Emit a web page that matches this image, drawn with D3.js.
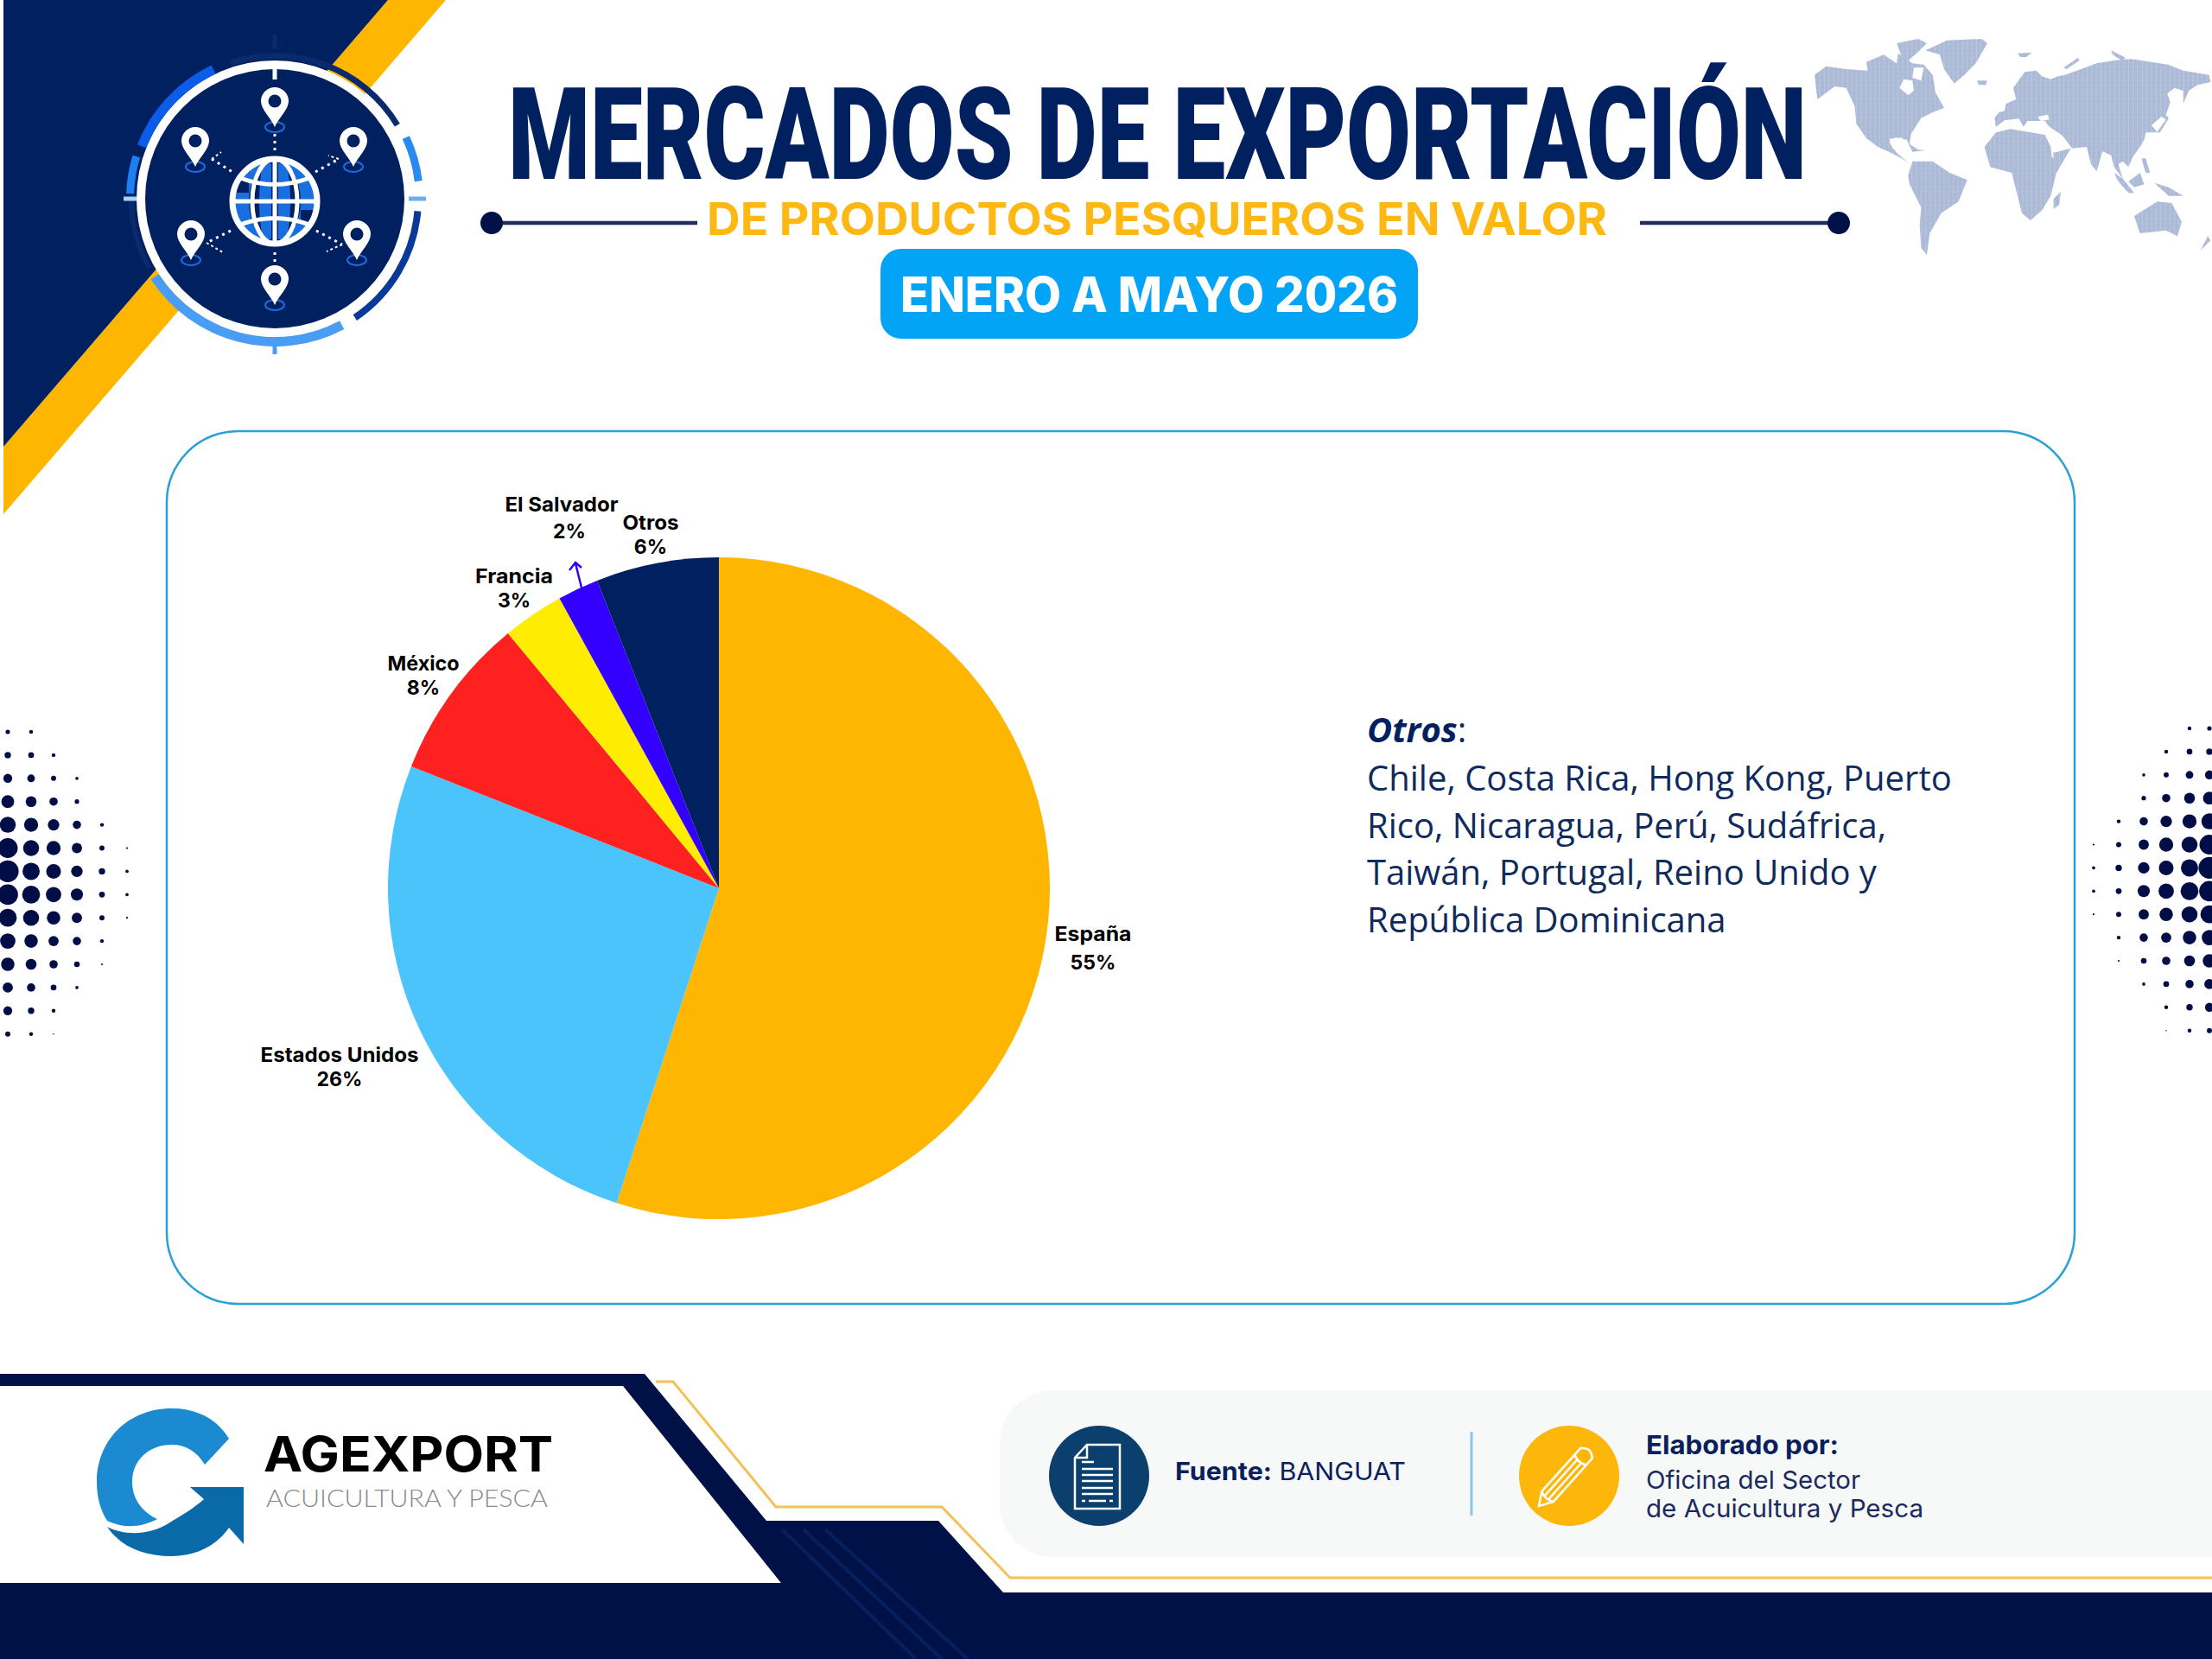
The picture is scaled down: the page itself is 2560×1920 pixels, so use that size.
<!DOCTYPE html>
<html lang="es">
<head>
<meta charset="UTF-8">
<title>Mercados de exportación</title>
<script src="https://d3js.org/d3.v7.min.js"></script>
<style>
  html, body { margin: 0; padding: 0; background: #fff; }
  svg { display: block; }
</style>
</head>
<body>
<div id="chart"></div>
<script>
// datos
const categories = ["España", "Estados Unidos", "México", "Francia", "El Salvador", "Otros"];
const shares = [55, 26, 8, 3, 2, 6];
const sliceColors = ["#ffb600", "#4bc3fb", "#ff2020", "#ffed00", "#3300ff", "#00205f"];
const otrosLines = [
  "Chile, Costa Rica, Hong Kong, Puerto",
  "Rico, Nicaragua, Perú, Sudáfrica,",
  "Taiwán, Portugal, Reino Unido y",
  "República Dominicana"
];

const navy = "#00205f", deep = "#001147", gold = "#ffb600";
const poppins = "Inter, 'Open Sans', sans-serif";

const svg = d3.select("#chart").append("svg").attr("width", 2560).attr("height", 1920);
const defs = svg.append("defs");
svg.append("rect").attr("width", 2560).attr("height", 1920).attr("fill", "#fff");

// helper for text squeezed to a measured width
function label(parent, str, x, y, size, weight, fill, width, anchor) {
  const t = parent.append("text").attr("x", x).attr("y", y)
    .attr("font-family", poppins).attr("font-size", size).attr("font-weight", weight)
    .attr("fill", fill).attr("text-anchor", anchor || "start").text(str);
  if (width) t.attr("textLength", width).attr("lengthAdjust", "spacingAndGlyphs");
  return t;
}
const line = pts => "M" + pts.map(p => p.join(",")).join("L");

// ---------- esquina superior ----------
svg.append("path").attr("d", line([[4, 517], [449, 0], [516, 0], [4, 595]]) + "Z").attr("fill", gold);
svg.append("path").attr("d", line([[4, 0], [449, 0], [4, 517]]) + "Z").attr("fill", navy);

// ---------- icono globo ----------
const icon = svg.append("g").attr("transform", "translate(318,230)");
icon.append("circle").attr("r", 160).attr("fill", "#fff");
icon.append("circle").attr("r", 150).attr("fill", navy);
const ringArc = d3.arc();
const deg = a => a * Math.PI / 180;
const ringSegments = [
  [-18, 59, 162, 169, "#0b2a6e"],
  [65, 83, 163, 172, "#2a8af0"],
  [95, 146, 162, 170, "#0a3a98"],
  [152, 237, 160, 171, "#4a9df5"],
  [241, 270, 163, 169, "#0b2a6e"],
  [272, 287, 163, 172, "#1e80f0"],
  [291.5, 334.6, 160, 171, "#0b5ce8"]
];
icon.selectAll("path.ring").data(ringSegments).enter().append("path").attr("class", "ring")
  .attr("d", d => ringArc({ startAngle: deg(d[0]), endAngle: deg(d[1]), innerRadius: d[2], outerRadius: d[3] }))
  .attr("fill", d => d[4]);
[[0, -190, 0, -173, "#0b2a6e"], [0, 170, 0, 180, "#4a9df5"], [155, 0, 175, 0, "#6ab0ee"], [-175, 0, -160, 0, "#a9d0f5"], [0, -154, 0, -138, "#fff"]]
  .forEach(d => icon.append("line").attr("x1", d[0]).attr("y1", d[1]).attr("x2", d[2]).attr("y2", d[3])
    .attr("stroke", d[4]).attr("stroke-width", 5));

// globo
const globe = icon.append("g").attr("transform", "translate(0,3)");
globe.append("circle").attr("r", 50).attr("fill", "#1a6fe0");
globe.append("ellipse").attr("rx", 30).attr("ry", 47).attr("fill", navy);
globe.append("path").attr("d", "M-14,-44Q-22,0 -14,44L-4,44V-44ZM14,-44Q22,0 14,44L4,44V-44Z").attr("fill", "#1a6fe0");
globe.append("path").attr("d", "M-48,-10H-30V-24H-42ZM48,10H30V24H42Z").attr("fill", navy);
globe.append("circle").attr("r", 49).attr("fill", "none").attr("stroke", "#fff").attr("stroke-width", 7);
globe.append("ellipse").attr("rx", 26).attr("ry", 49).attr("fill", "none").attr("stroke", "#fff").attr("stroke-width", 5);
globe.append("path").attr("d", "M0,-49V49M-49,0H49M-40,-27Q0,-12 40,-27M-40,27Q0,12 40,27")
  .attr("fill", "none").attr("stroke", "#fff").attr("stroke-width", 5);

// marcadores
const pinOffsets = [[0, -113], [-92, -67], [91, -67], [-97, 41], [95, 41], [0, 93]];
const pins = icon.selectAll("g.pin").data(pinOffsets).enter().append("g").attr("class", "pin")
  .attr("transform", d => `translate(${d[0]},${d[1]})`);
pins.append("ellipse").attr("cy", 30).attr("rx", 11).attr("ry", 6)
  .attr("fill", "none").attr("stroke", "#1d6ce0").attr("stroke-width", 2);
pins.append("path").attr("d", "M-16,0A16,16 0 1 1 16,0C16,10 4,20 0,30C-4,20 -16,10 -16,0Z").attr("fill", "#fff");
pins.append("circle").attr("r", 7.5).attr("fill", navy);

const dotted = [[0, -75, 0, -52], [0, 62, 0, 75], [-73, -46, -49, -31], [47, -31, 74, -46], [-51, 37, -79, 51], [48, 37, 78, 53]];
icon.selectAll("line.dot").data(dotted).enter().append("line").attr("class", "dot")
  .attr("x1", d => d[0]).attr("y1", d => d[1]).attr("x2", d => d[2]).attr("y2", d => d[3])
  .attr("stroke", "#fff").attr("stroke-width", 3).attr("stroke-dasharray", "3 5");
// puntas de flecha punteadas
icon.append("path").attr("d", "M-73,-46L-62,-54M74,-46L62,-50M-79,51L-60,62M78,53L60,61")
  .attr("stroke", "#fff").attr("stroke-width", 2).attr("stroke-dasharray", "3 3").attr("fill", "none");

// ---------- mapa mundi ----------
const stripes = defs.append("pattern").attr("id", "stripes").attr("patternUnits", "userSpaceOnUse")
  .attr("width", 16).attr("height", 16);
stripes.append("rect").attr("width", 16).attr("height", 16).attr("fill", "#aab9d6");
stripes.append("rect").attr("x", 13).attr("width", 2).attr("height", 16).attr("fill", "#c4d0e4");
stripes.append("rect").attr("y", 13).attr("width", 16).attr("height", 1.5).attr("fill", "#b8c5dd");
defs.append("filter").attr("id", "soft").append("feGaussianBlur").attr("stdDeviation", 2.2);

const land = [
  // Norteamerica
  [[60, 170], [100, 140], [170, 150], [245, 155], [240, 125], [300, 100], [345, 130], [350, 95], [400, 130], [440, 135], [470, 170], [480, 230], [510, 285], [470, 300], [430, 320], [395, 375], [390, 410], [420, 430], [445, 432], [400, 437], [380, 395], [340, 388], [320, 405], [345, 440], [385, 475], [360, 458], [320, 438], [280, 420], [240, 390], [205, 340], [200, 280], [170, 215], [130, 210], [70, 255]],
  // Groenlandia
  [[445, 85], [520, 50], [640, 45], [660, 60], [620, 130], [580, 170], [545, 200], [510, 150], [495, 100]],
  [[345, 60], [420, 45], [450, 60], [420, 90], [380, 125], [360, 100]],
  // Sudamerica
  [[385, 520], [400, 470], [470, 470], [530, 510], [590, 535], [560, 610], [500, 650], [460, 720], [450, 795], [430, 770], [425, 690], [430, 630], [390, 550]],
  // Africa
  [[650, 420], [690, 370], [740, 358], [860, 378], [890, 440], [950, 425], [900, 510], [880, 590], [850, 640], [810, 675], [780, 650], [765, 590], [745, 510], [670, 490]],
  [[890, 600], [915, 575], [910, 620], [890, 635]],
  // Eurasia
  [[685, 320], [700, 300], [720, 295], [725, 270], [760, 255], [750, 215], [790, 160], [830, 155], [850, 175], [880, 185], [905, 175], [930, 170], [985, 150], [1040, 130], [1100, 120], [1160, 115], [1230, 125], [1290, 135], [1340, 155], [1430, 170], [1435, 195], [1390, 205], [1360, 225], [1340, 270], [1340, 225], [1310, 215], [1285, 235], [1295, 265], [1280, 310], [1290, 320], [1260, 370], [1230, 370], [1210, 370], [1205, 395], [1190, 420], [1165, 455], [1150, 490], [1130, 470], [1115, 480], [1130, 530], [1100, 490], [1090, 450], [1060, 435], [1040, 505], [1020, 480], [1005, 420], [955, 425], [920, 380], [875, 350], [860, 330], [800, 330], [785, 350], [770, 322], [720, 328], [690, 350]],
  // Australia e islas
  [[1170, 660], [1250, 610], [1300, 615], [1335, 680], [1320, 730], [1280, 710], [1190, 720]],
  [[1100, 510], [1130, 530], [1170, 580], [1150, 580], [1115, 540]],
  [[1150, 540], [1190, 510], [1205, 550], [1170, 560]],
  [[1240, 545], [1290, 560], [1340, 590], [1290, 590]],
  [[1195, 460], [1210, 460], [1225, 510], [1210, 510]],
  [[625, 190], [660, 190], [655, 205], [630, 205]],
  [[765, 95], [815, 92], [795, 108], [775, 108]],
  [[925, 145], [975, 110], [980, 120], [935, 150]],
  [[1090, 85], [1140, 110], [1130, 122], [1095, 100]],
  [[1400, 780], [1425, 730], [1435, 745], [1385, 795]]
];
const seas = [
  [[355, 215], [370, 185], [400, 190], [405, 225], [385, 240]],
  [[835, 315], [870, 308], [875, 325], [845, 330]],
  [[1230, 345], [1265, 315], [1280, 325], [1250, 368]],
  [[320, 392], [365, 388], [365, 420], [330, 425]],
  [[405, 145], [440, 145], [430, 190], [400, 180]],
  [[880, 415], [888, 420], [890, 460], [884, 455]]
];
const map = svg.append("g").attr("transform", "translate(2080,30) scale(0.3333)").attr("filter", "url(#soft)");
map.selectAll("path.land").data(land).enter().append("path").attr("class", "land")
  .attr("d", d => line(d) + "Z").attr("fill", "url(#stripes)");
map.selectAll("path.sea").data(seas).enter().append("path").attr("class", "sea")
  .attr("d", d => line(d) + "Z").attr("fill", "#fff");

// ---------- titulos ----------
const title = svg.append("text").attr("font-family", "Roboto, sans-serif")
  .attr("font-size", 148).attr("font-weight", 900).attr("fill", navy).text("MERCADOS DE EXPORTACIÓN");
title.attr("transform", `translate(588,207) scale(${1503 / title.node().getComputedTextLength()},1)`);
label(svg, "DE PRODUCTOS PESQUEROS EN VALOR", 818, 272, 52, 700, "#fdb813", 1042);
[[569, 807], [1898, 2128]].forEach(d => svg.append("line").attr("x1", d[0]).attr("x2", d[1]).attr("y1", 258).attr("y2", 258)
  .attr("stroke", "#1f2f66").attr("stroke-width", 4.5));
[569, 2128].forEach(x => svg.append("circle").attr("cx", x).attr("cy", 258).attr("r", 13).attr("fill", deep));
svg.append("rect").attr("x", 1019).attr("y", 288).attr("width", 622).attr("height", 104).attr("rx", 24).attr("fill", "#03a3f5");
label(svg, "ENERO A MAYO 2026", 1042, 361, 56, 800, "#fff", 576);

// ---------- tarjeta ----------
svg.append("rect").attr("x", 193).attr("y", 499).attr("width", 2208).attr("height", 1010).attr("rx", 82)
  .attr("fill", "#fff").attr("stroke", "#2ba0d5").attr("stroke-width", 2.5);

// ---------- semitono lados ----------
const dotRows = [
  [14, 12], [20, 18, 12], [28, 24, 16, 10], [40, 34, 26, 14], [50, 44, 36, 26, 12], [62, 50, 44, 32, 16, 6],
  [68, 54, 46, 36, 20, 10], [64, 56, 48, 38, 18, 10], [56, 50, 42, 32, 16, 6], [48, 42, 32, 26, 12],
  [42, 34, 26, 18, 6], [32, 26, 18, 10], [28, 20, 12], [16, 12, 4]
];
const leftX = [9, 36, 62, 89, 118, 147], rightX = [2557, 2534, 2507, 2481, 2452, 2423];
defs.append("filter").attr("id", "dotBlur").append("feGaussianBlur").attr("stdDeviation", 0.7);
const dots = svg.append("g").attr("filter", "url(#dotBlur)");
const halftone = (xs, y0) => dotRows.forEach((row, i) => row.forEach((dia, k) =>
  dots.append("circle").attr("cx", xs[k]).attr("cy", y0 + i * 26.9).attr("r", dia / 5.4).attr("fill", deep)));
halftone(leftX, 847);
halftone(rightX, 843);

// ---------- grafico de pastel ----------
const pieGroup = svg.append("g").attr("transform", "translate(832,1028)");
const color = d3.scaleOrdinal().domain(categories).range(sliceColors);
const pie = d3.pie().sort(null).value(d => d.share);
const arc = d3.arc().innerRadius(0).outerRadius(383);
const slices = pie(categories.map((name, i) => ({ name: name, share: shares[i] })));
pieGroup.selectAll("path").data(slices).enter().append("path")
  .attr("d", arc).attr("fill", d => color(d.data.name));

// etiquetas: x nombre, base nombre, x porcentaje, base porcentaje, ancho nombre
const labelLayout = {
  "España": [1265, 1089, 1265, 1122, 89],
  "Estados Unidos": [393, 1229, 393, 1257, 183],
  "México": [490, 776, 490, 804, 83],
  "Francia": [595, 675, 595, 703, 90],
  "El Salvador": [650, 592, 659, 623, 131],
  "Otros": [753, 613, 753, 641, 65]
};
slices.forEach(d => {
  const p = labelLayout[d.data.name];
  label(svg, d.data.name, p[0], p[1], 23, 700, "#000", p[4], "middle");
  label(svg, d.data.share + "%", p[2], p[3], 23, 700, "#000", null, "middle");
});
// flecha El Salvador
svg.append("path").attr("d", "M673,680L666,652M659,660L666,651L673,657")
  .attr("fill", "none").attr("stroke", "#3300ff").attr("stroke-width", 2.5);

// ---------- texto otros ----------
const otros = svg.append("g").attr("font-family", "'Open Sans', sans-serif").attr("font-size", 40).attr("fill", "#0f2a5c");
const otrosHead = otros.append("text").attr("x", 1582).attr("y", 859);
otrosHead.append("tspan").attr("font-weight", 700).attr("font-style", "italic").attr("fill", navy).text("Otros");
otrosHead.append("tspan").text(":");
otros.selectAll("text.ln").data(otrosLines).enter().append("text").attr("class", "ln")
  .attr("x", 1582).attr("y", (d, i) => 915 + i * 54.7).text(d => d);

// ---------- pie de pagina ----------
svg.append("rect").attr("x", 1157).attr("y", 1609).attr("width", 1500).attr("height", 193).attr("rx", 62).attr("fill", "#f7f8f8");
svg.append("path").attr("d", line([[0, 1590], [746, 1590], [887, 1760], [1086, 1760], [1161, 1843], [2560, 1843], [2560, 1920], [0, 1920]]) + "Z").attr("fill", deep);
svg.append("path").attr("d", line([[0, 1604], [721, 1604], [904, 1832], [0, 1832]]) + "Z").attr("fill", "#fff");
svg.append("path").attr("d", line([[759, 1599], [779, 1599], [898, 1744], [1090, 1744], [1169, 1826], [2560, 1826]]))
  .attr("fill", "none").attr("stroke", "#f3c155").attr("stroke-width", 3);
[[905, 1770, 1060, 1920], [930, 1770, 1090, 1920], [955, 1770, 1120, 1920]].forEach(d =>
  svg.append("line").attr("x1", d[0]).attr("y1", d[1]).attr("x2", d[2]).attr("y2", d[3])
    .attr("stroke", "#0a2a70").attr("stroke-width", 4).attr("opacity", 0.6));

// logo
svg.append("path").attr("d", "M265,1665C250,1640 225,1630 199,1630C145,1630 112,1670 112,1715C112,1732 116,1748 124,1760C145,1770 165,1767 182,1758C165,1750 153,1735 153,1715C153,1690 172,1672 199,1672C215,1672 228,1680 237,1695Z")
  .attr("fill", "#1c8ad0");
svg.append("path").attr("d", "M124,1767C145,1778 175,1776 195,1763C210,1754 225,1745 236,1735L220,1721H282V1787L265,1768C250,1790 225,1801 199,1801C165,1801 140,1790 124,1767Z")
  .attr("fill", "#0a6aa8");
label(svg, "AGEXPORT", 305, 1703, 57, 700, "#000", 335);
svg.append("text").attr("x", 308).attr("y", 1744).attr("font-family", "Lato, sans-serif").attr("font-size", 27).attr("font-weight", 300)
  .attr("fill", "#8a8a8a").attr("textLength", 326).attr("lengthAdjust", "spacingAndGlyphs").text("ACUICULTURA Y PESCA");

// fuente
svg.append("circle").attr("cx", 1272).attr("cy", 1708).attr("r", 58).attr("fill", "#0b3f6e");
const doc = svg.append("g").attr("transform", "translate(1244,1672)").attr("fill", "none").attr("stroke", "#fff").attr("stroke-width", 2.5);
doc.append("path").attr("d", "M14,0H52V74H0V15ZM14,0V15H0");
doc.append("path").attr("d", "M8,20H22M8,28H44M8,35H44M8,42H44M8,50H44M8,57H44M8,65H12M16,65H36M40,65H44");
const fuente = svg.append("text").attr("x", 1360).attr("y", 1713).attr("font-family", poppins).attr("font-size", 29).attr("fill", "#0a1f5c")
  .attr("textLength", 267).attr("lengthAdjust", "spacingAndGlyphs");
fuente.append("tspan").attr("font-weight", 700).text("Fuente:");
fuente.append("tspan").attr("font-weight", 400).text(" BANGUAT");
svg.append("line").attr("x1", 1703).attr("x2", 1703).attr("y1", 1657).attr("y2", 1754).attr("stroke", "#8cc4ea").attr("stroke-width", 3);

// elaborado por
svg.append("circle").attr("cx", 1816).attr("cy", 1708).attr("r", 58).attr("fill", "#fdb60a");
const pencil = svg.append("g").attr("transform", "translate(1781,1743) rotate(42)").attr("fill", "none").attr("stroke", "#fff").attr("stroke-width", 2.5);
pencil.append("path").attr("d", "M0,0L-9,-15V-82Q0,-92 9,-82V-15ZM-9,-15Q0,-10 9,-15M-9,-72Q0,-67 9,-72M-3,-14V-70M3,-14V-70");
label(svg, "Elaborado por:", 1905, 1683, 30, 700, "#0a1f5c", 223);
label(svg, "Oficina del Sector", 1905, 1723, 29, 400, "#1a2a5c", 248);
label(svg, "de Acuicultura y Pesca", 1905, 1756, 29, 400, "#1a2a5c", 321);
</script>
</body>
</html>
